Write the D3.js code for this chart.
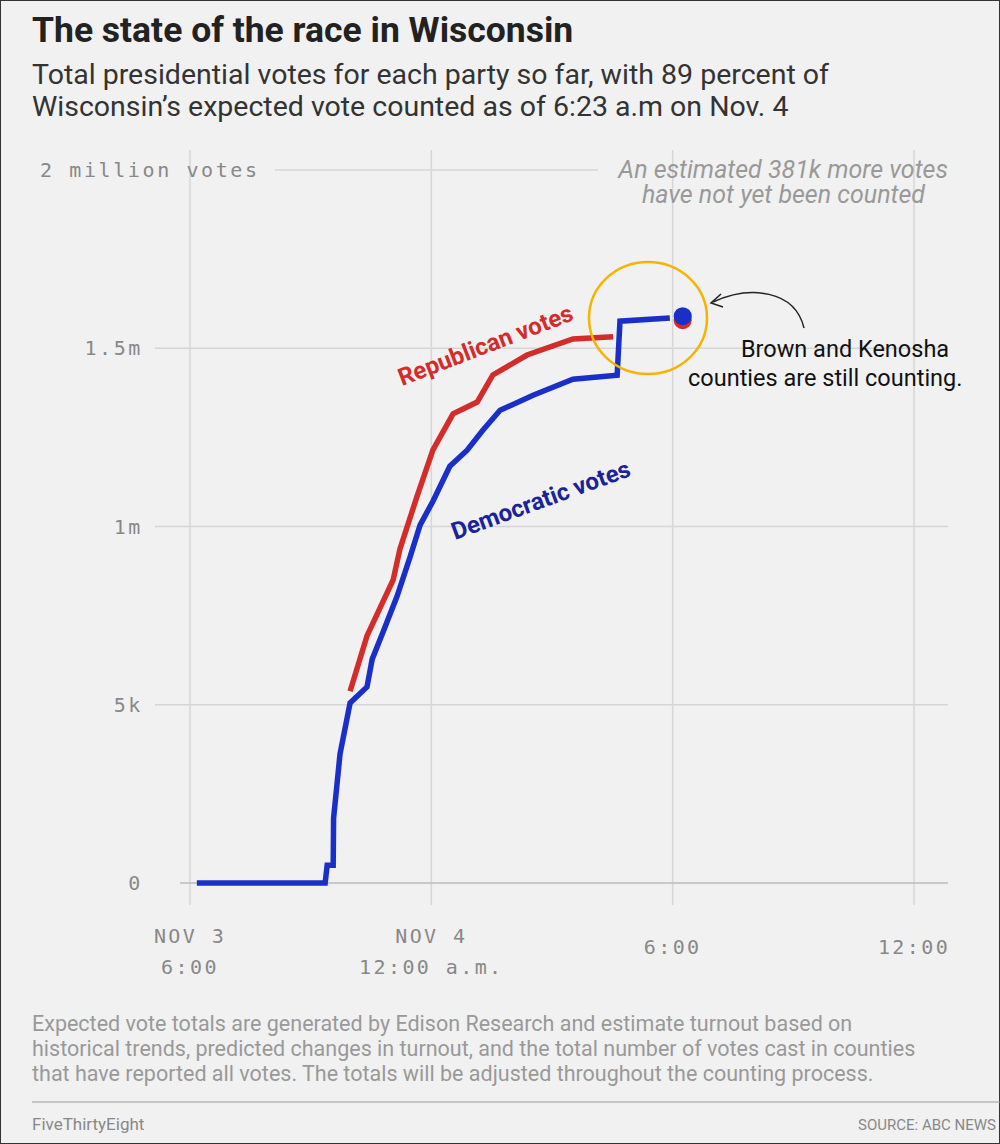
<!DOCTYPE html><html><head><meta charset="utf-8">
<script src="https://cdn.jsdelivr.net/npm/d3@7"></script>
<style>body{margin:0;background:#fff}svg{display:block}</style></head><body>
<script>
// hours after Nov 3 6:00 a.m., votes in millions
const demHours=[0.17,3.36,3.41,3.56,3.57,3.73,3.98,4.40,4.53,4.80,5.15,5.47,5.72,6.04,6.46,6.89,7.28,7.71,8.53,9.52,10.62,10.69,11.93];
const demVotes=[0,0,0.050,0.050,0.182,0.362,0.505,0.550,0.628,0.704,0.805,0.914,1.004,1.071,1.169,1.214,1.270,1.326,1.368,1.413,1.424,1.576,1.585];
const repHours=[3.98,4.40,5.05,5.22,5.64,6.04,6.54,7.14,7.53,8.38,9.52,10.52];
const repVotes=[0.538,0.693,0.850,0.937,1.083,1.215,1.316,1.349,1.425,1.481,1.526,1.532];
const dotHour=[12.25], dotVote=[1.59];
const yTicks=[0,0.5,1,1.5,2];
const yLabels=["0","5k","1m","1.5m","2 million votes"];
const xTicks=[0,6,12,18];
const xLabels=[["NOV 3","6:00"],["NOV 4","12:00 a.m."],["","6:00"],["","12:00"]];

const W=1000,H=1144;
const svg=d3.select("body").append("svg").attr("width",W).attr("height",H);
svg.append("rect").attr("x",0.5).attr("y",0.5).attr("width",W-1).attr("height",H-1).attr("fill","#f1f1f1").attr("stroke","#333");
const x=d3.scaleLinear().domain([0,18]).range([190,914]);
const y=d3.scaleLinear().domain([0,2]).range([883,170]);
const sans="Roboto, 'Open Sans', sans-serif", mono="'DejaVu Sans Mono', monospace";
svg.append("text").attr("x",32).attr("y",42).text("The state of the race in Wisconsin").attr("font-family",sans).attr("font-weight","bold").attr("font-size",35.5).attr("fill","#222");
["Total presidential votes for each party so far, with 89 percent of","Wisconsin’s expected vote counted as of 6:23 a.m on Nov. 4"].forEach((t,i)=>
 svg.append("text").attr("x",32).attr("y",84+i*32).text(t).attr("font-family",sans).attr("font-size",28.5).attr("fill","#333"));
svg.selectAll(".vg").data(xTicks).join("line").attr("x1",d=>x(d)).attr("x2",d=>x(d)).attr("y1",150).attr("y2",905).attr("stroke","#d6d6d6").attr("stroke-width",1.5);
svg.selectAll(".hg").data(yTicks).join("line").attr("x1",(d,i)=>i==4?275:(i==0?180:150)).attr("x2",(d,i)=>i==4?598:948).attr("y1",d=>y(d)).attr("y2",d=>y(d)).attr("stroke",(d,i)=>i==0?"#bbb":"#d6d6d6").attr("stroke-width",1.5);
[0.5,1,1.5].forEach(v=>svg.append("rect").attr("x",40).attr("y",y(v)-12).attr("width",115).attr("height",24).attr("fill","#f1f1f1"));
svg.selectAll(".yl").data(yTicks).join("text").attr("x",(d,i)=>i==4?40:143).attr("y",d=>y(d)+7).attr("text-anchor",(d,i)=>i==4?"start":"end")
 .text((d,i)=>yLabels[i]).attr("font-family",mono).attr("font-size",20).attr("letter-spacing",2.6).attr("fill","#888");
xTicks.forEach((t,i)=>{xLabels[i].forEach((s,j)=>{if(s)svg.append("text").attr("x",x(t)).attr("y",i>=2?954:943+j*31).attr("text-anchor","middle").text(s).attr("font-family",mono).attr("font-size",20).attr("letter-spacing",2.4).attr("fill","#888");});});
["An estimated 381k more votes","have not yet been counted"].forEach((t,i)=>svg.append("text").attr("x",i?925:948).attr("y",178+i*25).attr("text-anchor","end").text(t).attr("font-family",sans).attr("font-style","italic").attr("font-size",25).attr("fill","#999"));
const line=d3.line().x(d=>x(d[0])).y(d=>y(d[1]));
svg.append("path").attr("d",line(repHours.map((h,i)=>[h,repVotes[i]]))).attr("fill","none").attr("stroke","#d42b2b").attr("stroke-width",5.5);
svg.append("path").attr("d",line(demHours.map((h,i)=>[h,demVotes[i]]))).attr("fill","none").attr("stroke","#1a2fc8").attr("stroke-width",5.5);
svg.append("circle").attr("cx",x(dotHour[0])).attr("cy",y(dotVote[0])+4).attr("r",9).attr("fill","#d42b2b");
svg.append("circle").attr("cx",x(dotHour[0])).attr("cy",y(dotVote[0])).attr("r",9).attr("fill","#1a2fc8");
svg.append("text").attr("transform","translate(402,386) rotate(-21)").text("Republican votes").attr("font-family",sans).attr("font-weight","bold").attr("font-size",24).attr("fill","#d42b2b");
svg.append("text").attr("transform","translate(455,540) rotate(-20)").text("Democratic votes").attr("font-family",sans).attr("font-weight","bold").attr("font-size",24).attr("fill","#1a2399");
svg.append("ellipse").attr("cx",648).attr("cy",318).attr("rx",59).attr("ry",56).attr("fill","none").attr("stroke","#f4b400").attr("stroke-width",2.5);
svg.append("path").attr("d","M804,328 C795,290 750,285 713,302").attr("fill","none").attr("stroke","#222").attr("stroke-width",1.5);
svg.append("path").attr("d","M721,294 L711,303 L723,307").attr("fill","none").attr("stroke","#222").attr("stroke-width",1.5);
svg.append("text").attr("x",845).attr("y",357).attr("text-anchor","middle").text("Brown and Kenosha").attr("font-family",sans).attr("font-size",23.5).attr("fill","#111");
svg.append("text").attr("x",688).attr("y",386).text("counties are still counting.").attr("font-family",sans).attr("font-size",23.5).attr("fill","#111");
["Expected vote totals are generated by Edison Research and estimate turnout based on","historical trends, predicted changes in turnout, and the total number of votes cast in counties","that have reported all votes. The totals will be adjusted throughout the counting process."].forEach((t,i)=>
 svg.append("text").attr("x",32).attr("y",1031+i*25).text(t).attr("font-family",sans).attr("font-size",21.5).attr("fill","#999"));
svg.append("line").attr("x1",32).attr("x2",1000).attr("y1",1102).attr("y2",1102).attr("stroke","#999");
svg.append("text").attr("x",32).attr("y",1130).text("FiveThirtyEight").attr("font-family",sans).attr("font-size",17).attr("fill","#888");
svg.append("text").attr("x",996).attr("y",1130).attr("text-anchor","end").text("SOURCE: ABC NEWS").attr("font-family",sans).attr("font-size",15).attr("fill","#888");
</script></body></html>
